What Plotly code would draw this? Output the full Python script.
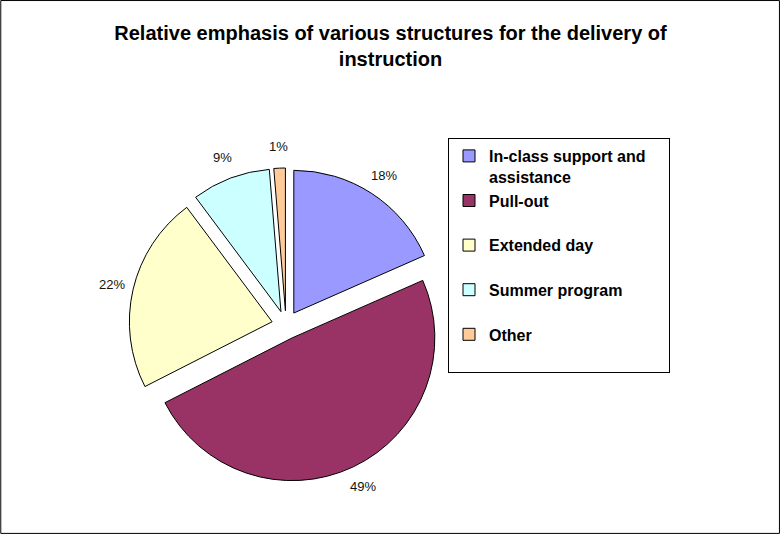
import math
import plotly.graph_objects as go

categories = ["In-class support and\u00a0\u00a0\u00a0\u00a0<br>assistance", "Pull-out<br> ", "Extended day<br> ",
              "Summer program<br> ", "Other<br> "]
values = [18.4, 49.1, 22.3, 8.9, 1.3]
colors = ["#9999FF", "#993366", "#FFFFCC", "#CCFFFF", "#FFCC99"]

W, H = 781, 535
PULL = 0.1
dom_x = [129 / W, 443 / W]
dom_y = [53 / H, 367 / H]

fig = go.Figure(go.Pie(
    labels=categories,
    values=values,
    sort=False,
    direction="clockwise",
    rotation=0,
    pull=[PULL] * len(values),
    marker=dict(colors=colors, line=dict(color="black", width=1)),
    textinfo="none",
    domain=dict(x=dom_x, y=dom_y),
    hoverinfo="label+percent",
))

# percentage labels placed outside each slice at its mid-angle
cx = (dom_x[0] + dom_x[1]) / 2 * W
cy = (1 - (dom_y[0] + dom_y[1]) / 2) * H
box = min((dom_x[1] - dom_x[0]) * W, (dom_y[1] - dom_y[0]) * H)
r = box / (2 * (1 + PULL))
R = r * (1 + PULL) + 22
total = sum(values)
cum = 0.0
annotations = []
for v in values:
    mid = (cum + v / 2) / total
    cum += v
    th = 2 * math.pi * mid
    px = cx + R * math.sin(th)
    py = cy - R * math.cos(th)
    annotations.append(dict(
        x=px / W, y=1 - py / H, xref="paper", yref="paper",
        text=f"{round(v / total * 100)}%", showarrow=False,
        xanchor="center", yanchor="middle",
        font=dict(family="Liberation Sans, Arial", size=13, color="#111111"),
    ))

fig.update_layout(
    width=W, height=H,
    margin=dict(l=0, r=0, t=0, b=0),
    paper_bgcolor="white",
    plot_bgcolor="white",
    title=dict(
        text="Relative emphasis of various structures for the delivery of<br>instruction",
        x=0.5, xanchor="center", y=1 - 40 / H, yanchor="top",
        font=dict(family="Liberation Sans, Arial", size=20, color="black", weight="bold"),
    ),
    legend=dict(
        x=448 / W, y=1 - 138 / H, xanchor="left", yanchor="top",
        bordercolor="black", borderwidth=1, bgcolor="white",
        font=dict(family="Liberation Sans, Arial", size=16, color="black", weight="bold"),
        valign="top",
        itemclick=False,
    ),
    showlegend=True,
    annotations=annotations,
    shapes=[dict(type="rect", xref="paper", yref="paper", x0=0.001, x1=0.998, y0=0.003, y1=0.999,
                 line=dict(color="black", width=1))],
)
fig.write_html("out.html")
